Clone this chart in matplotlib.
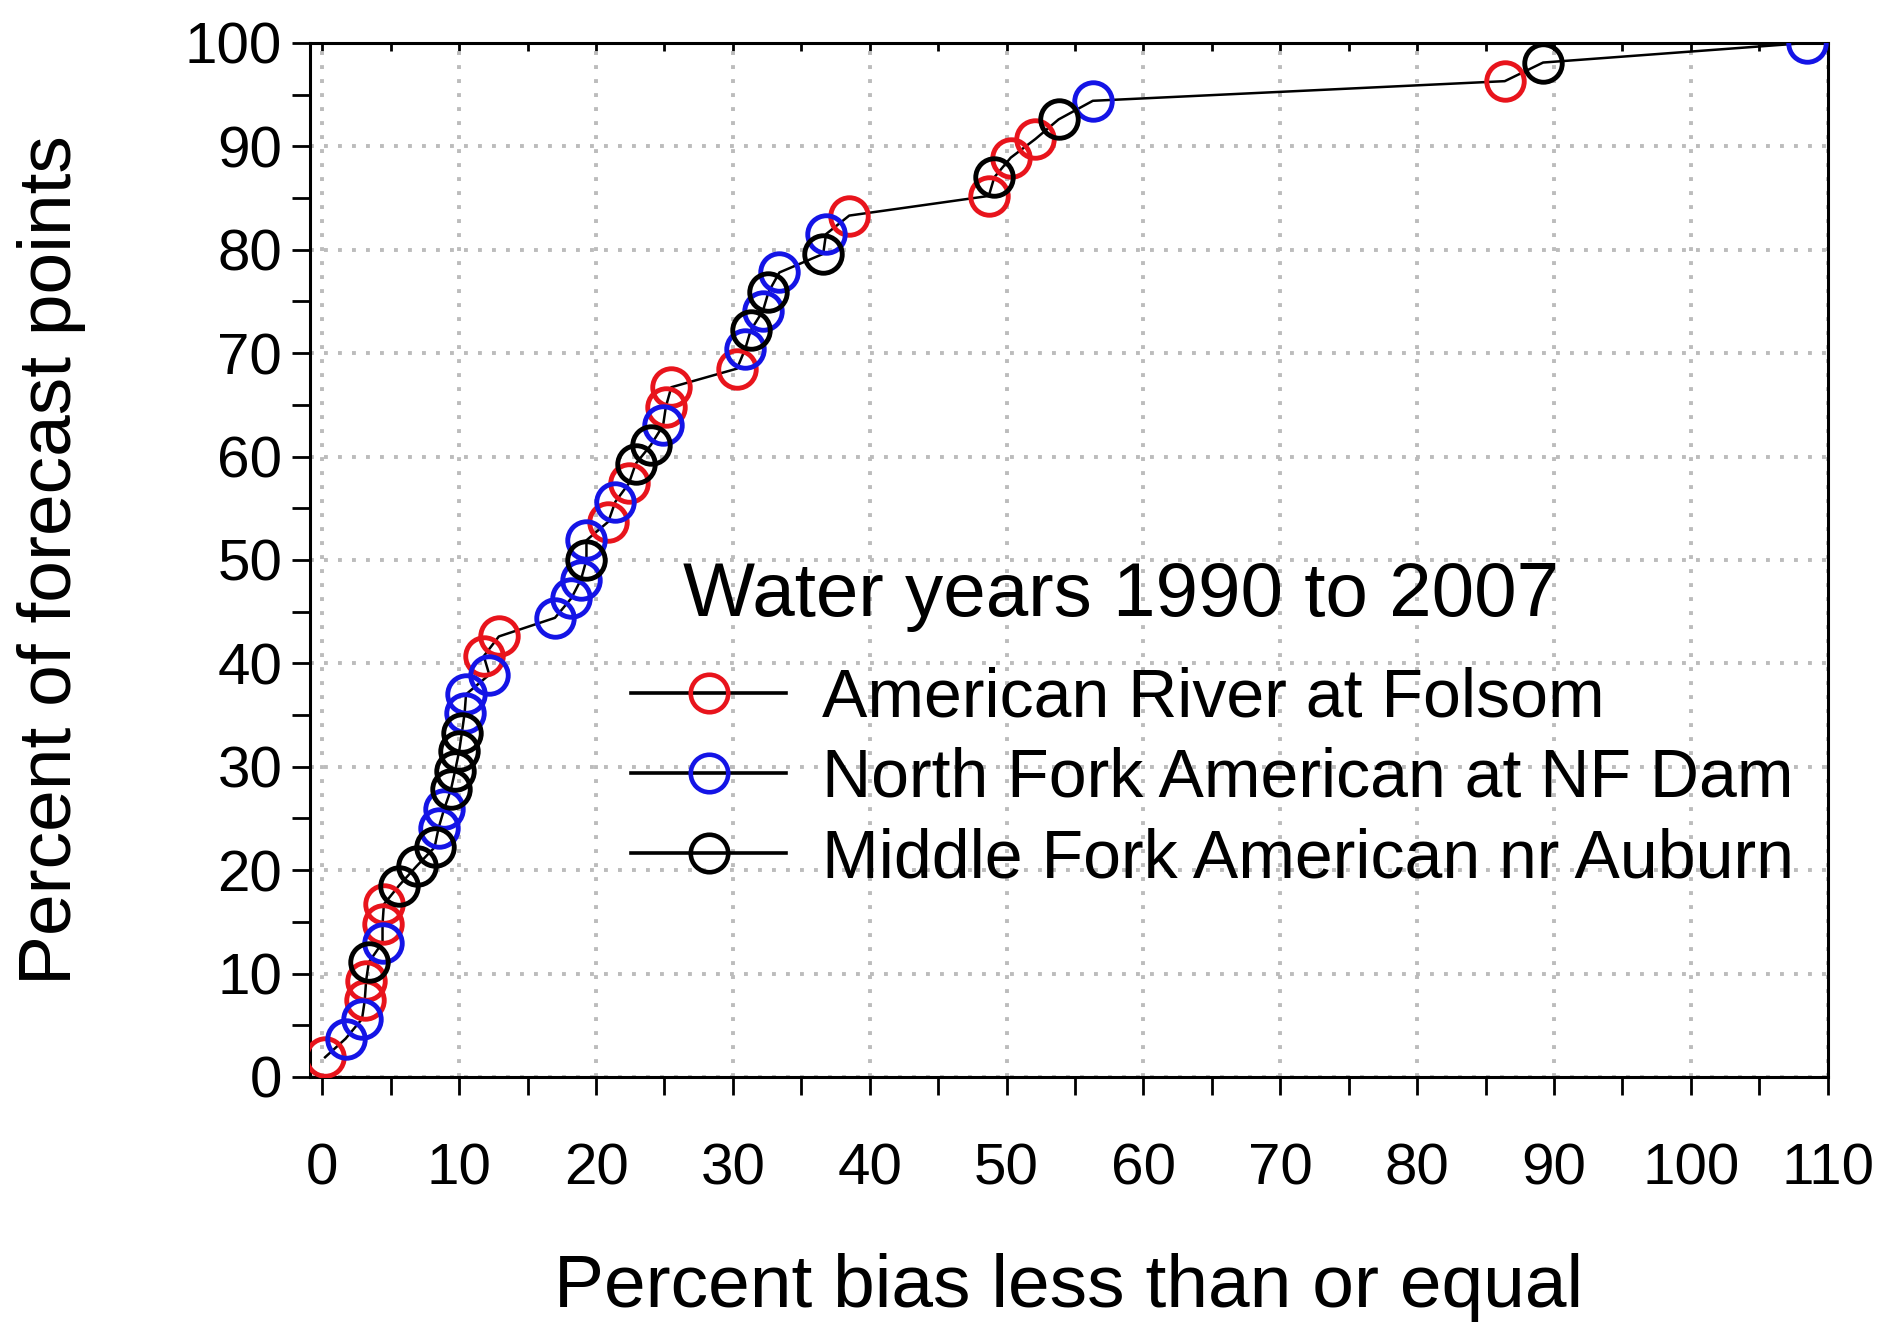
import numpy as np
import matplotlib
matplotlib.use('Agg')
import matplotlib.pyplot as plt
from matplotlib.lines import Line2D
from matplotlib.ticker import MultipleLocator

plt.rcParams['font.family'] = ['Liberation Sans', 'DejaVu Sans']

# values (percent bias, cumulative percent of forecast points)
folsom_bias = [0.2, 3.1, 3.2, 4.4, 4.5, 11.8, 12.9, 20.9, 22.4, 25.1, 25.5, 30.3,
               38.5, 48.7, 50.3, 52.1, 86.4]
folsom_pct = [1.9, 7.4, 9.3, 14.8, 16.7, 40.7, 42.6, 53.7, 57.4, 64.8, 66.7, 68.5,
              83.3, 85.2, 88.9, 90.7, 96.3]

nfdam_bias = [1.7, 2.9, 4.4, 8.5, 8.9, 10.4, 10.5, 12.2, 17.0, 18.2, 18.9, 19.3,
              21.4, 24.9, 30.9, 32.2, 33.4, 36.8, 56.3, 108.5]
nfdam_pct = [3.7, 5.6, 13.0, 24.1, 25.9, 35.2, 37.0, 38.9, 44.4, 46.3, 48.1, 51.9,
             55.6, 63.0, 70.4, 74.1, 77.8, 81.5, 94.4, 100.0]

auburn_bias = [3.4, 5.6, 6.9, 8.2, 9.4, 9.7, 10.0, 10.2, 19.3, 22.9, 24.0, 31.3,
               32.6, 36.6, 49.1, 53.8, 89.2]
auburn_pct = [11.1, 18.5, 20.4, 22.2, 27.8, 29.6, 31.5, 33.3, 50.0, 59.3, 61.1, 72.2,
              75.9, 79.6, 87.0, 92.6, 98.1]

labels = ['American River at Folsom', 'North Fork American at NF Dam',
          'Middle Fork American nr Auburn']
colors = ['#e8141c', '#1414e6', 'black']

fig = plt.figure(figsize=(18.96, 13.24), dpi=100)
ax = fig.add_axes([0.1635, 0.1866, 0.8005, 0.781])

# one black line through all points, ordered by cumulative percent
all_bias = np.array(folsom_bias + nfdam_bias + auburn_bias)
all_pct = np.array(folsom_pct + nfdam_pct + auburn_pct)
order = np.argsort(all_pct)
ax.plot(all_bias[order], all_pct[order], 'k-', linewidth=1.8, zorder=2)

series = [(folsom_bias, folsom_pct), (nfdam_bias, nfdam_pct), (auburn_bias, auburn_pct)]
for (xb, yp), c in zip(series, colors):
    ax.plot(xb, yp, linestyle='none', marker='o', markersize=27, markerfacecolor='none',
            markeredgecolor=c, markeredgewidth=3.5, zorder=3)

ax.set_xlim(-0.9, 110)
ax.set_ylim(0, 100)
ax.xaxis.set_major_locator(MultipleLocator(10))
ax.xaxis.set_minor_locator(MultipleLocator(5))
ax.yaxis.set_major_locator(MultipleLocator(10))
ax.yaxis.set_minor_locator(MultipleLocator(5))

ax.grid(True, which='major', color='#bcbcbc', linestyle=(0, (1, 2.6)), linewidth=2.8)
ax.set_axisbelow(True)

for s in ax.spines.values():
    s.set_linewidth(2.2)

ax.tick_params(axis='both', which='both', direction='out', length=13, width=2, labelsize=42)
ax.tick_params(axis='x', which='both', pad=34)
ax.tick_params(axis='y', which='both', pad=7)

# short inward ticks along the top
axt = ax.secondary_xaxis('top')
axt.xaxis.set_major_locator(MultipleLocator(5))
axt.tick_params(direction='in', length=6, width=2, labeltop=False)

ax.set_xlabel('Percent bias less than or equal', fontsize=54, va='center')
ax.xaxis.set_label_coords(0.5, -0.204)
ax.set_ylabel('Percent of forecast points', fontsize=54, va='center')
ax.yaxis.set_label_coords(-0.1706, 0.5)

handles = [Line2D([], [], color='black', linewidth=2.6, marker='o', markersize=27,
                  markerfacecolor='none', markeredgecolor=c, markeredgewidth=3.3)
           for c in colors]
ax.text(0.2457, 0.465, 'Water years 1990 to 2007', transform=ax.transAxes,
        fontsize=55, ha='left', va='center')
ax.legend(handles, labels, loc='upper left', bbox_to_anchor=(0.2115, 0.397),
          frameon=False, fontsize=49, handlelength=2.28, handletextpad=0.53,
          labelspacing=0.24, borderaxespad=0, borderpad=0)

fig.savefig('out.png', dpi=100)
